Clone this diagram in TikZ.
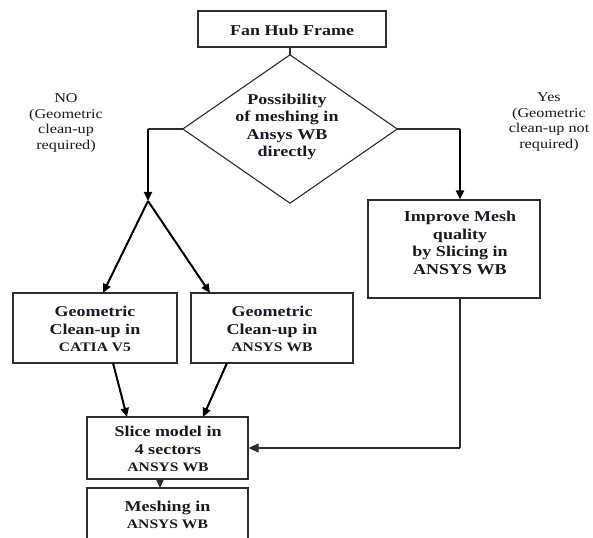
\documentclass[tikz,border=0pt]{standalone}
\usepackage{fontspec}
\setmainfont{Liberation Serif}
\newfontfamily\boxfont[FakeStretch=1.2]{Liberation Serif}
\newfontfamily\labfont[FakeStretch=1.2]{Liberation Serif}
\usetikzlibrary{arrows.meta}
\definecolor{ink}{RGB}{25,25,35}
\definecolor{edge}{RGB}{45,45,45}
\tikzset{
  box/.style={draw=edge, line width=1.1pt, fill=white, inner sep=0pt},
  boxtext/.style={text=ink, align=center, font=\boxfont\bfseries\fontsize{15}{17.5}\selectfont, inner sep=0pt},
  labtext/.style={text=ink, align=center, font=\labfont\fontsize{13.5}{15.5}\selectfont, inner sep=0pt},
  flow/.style={draw=edge, line width=1.1pt, -{Triangle[length=10pt,width=9pt]}},
  thick flow/.style={draw=black, line width=2pt, -{Triangle[length=9pt,width=8pt]}},
  plain/.style={draw=edge, line width=1.1pt},
  thick plain/.style={draw=black, line width=2pt}
}
\begin{document}
\begin{tikzpicture}[x=1pt,y=-1pt]
\useasboundingbox (0,0) rectangle (593,537);
\fill[white] (0,0) rectangle (593,537);
\begin{scope}
\clip (0,0) rectangle (593,537);
% Fan Hub Frame
\node[box, minimum width=188pt, minimum height=36pt] (fan) at (292,29) {};
\node[boxtext] (fant) at (292,30) {Fan Hub Frame};
% diamond
\node[minimum width=214pt, minimum height=148pt, inner sep=0pt] (dia) at (290,129) {};
\draw[plain] (dia.north) -- (dia.east) -- (dia.south) -- (dia.west) -- cycle;
\node[boxtext] (diat) at (287,127) {Possibility\\of meshing in\\Ansys WB\\directly};
\draw[plain] (fan.south -| dia.north) -- (dia.north);
% labels
\node[labtext] (nolab) at (66,123) {NO\\(Geometric\\clean-up\\required)};
\node[labtext] (yeslab) at (549,122) {Yes\\(Geometric\\clean-up not\\required)};
% improve box
\node[box, minimum width=172pt, minimum height=98pt] (imp) at (454,249) {};
\node[boxtext] (impt) at (460,243) {Improve Mesh\\quality\\by Slicing in\\ANSYS WB};
% geometric boxes
\node[box, minimum width=164pt, minimum height=70pt] (geoL) at (95,328) {};
\node[boxtext] (geoLt) at (95,329) {Geometric\\Clean-up in\\{\fontsize{13}{15}\selectfont CATIA V5}};
\node[box, minimum width=162pt, minimum height=70pt] (geoR) at (272,328) {};
\node[boxtext] (geoRt) at (272,329) {Geometric\\Clean-up in\\{\fontsize{13}{15}\selectfont ANSYS WB}};
% slice box
\node[box, minimum width=161pt, minimum height=62pt] (slice) at (167.5,448) {};
\node[boxtext] (slicet) at (168,449) {Slice model in\\4 sectors\\{\fontsize{13}{15}\selectfont ANSYS WB}};
% meshing box
\node[box, minimum width=161pt, minimum height=80pt] (mesh) at (167.5,528) {};
\node[boxtext] (mesht) at (167.5,515) {Meshing in\\{\fontsize{13}{15}\selectfont ANSYS WB}};
% connectors
\coordinate (nocorner) at (148,129);
\coordinate (j) at (148,201);
\coordinate (yescorner) at (460,129);
\coordinate (retcorner) at (460,448);
\draw[plain] (dia.west) -- (nocorner);
\draw[thick flow] (nocorner) -- (j);
\draw[thick flow] (j) -- (103,293);
\draw[thick flow] (j) -- (210,293);
\draw[plain] (dia.east) -- (yescorner);
\draw[thick flow] (yescorner) -- (yescorner |- imp.north);
\draw[thick flow] (113,363) -- (127,417);
\draw[thick flow] (227,363) -- (203,417);
\draw[flow] (160,479) -- (160,488);
\draw[plain] (imp.south -| retcorner) -- (retcorner);
\draw[flow] (retcorner) -- (slice.east);
\end{scope}
\end{tikzpicture}
\end{document}
